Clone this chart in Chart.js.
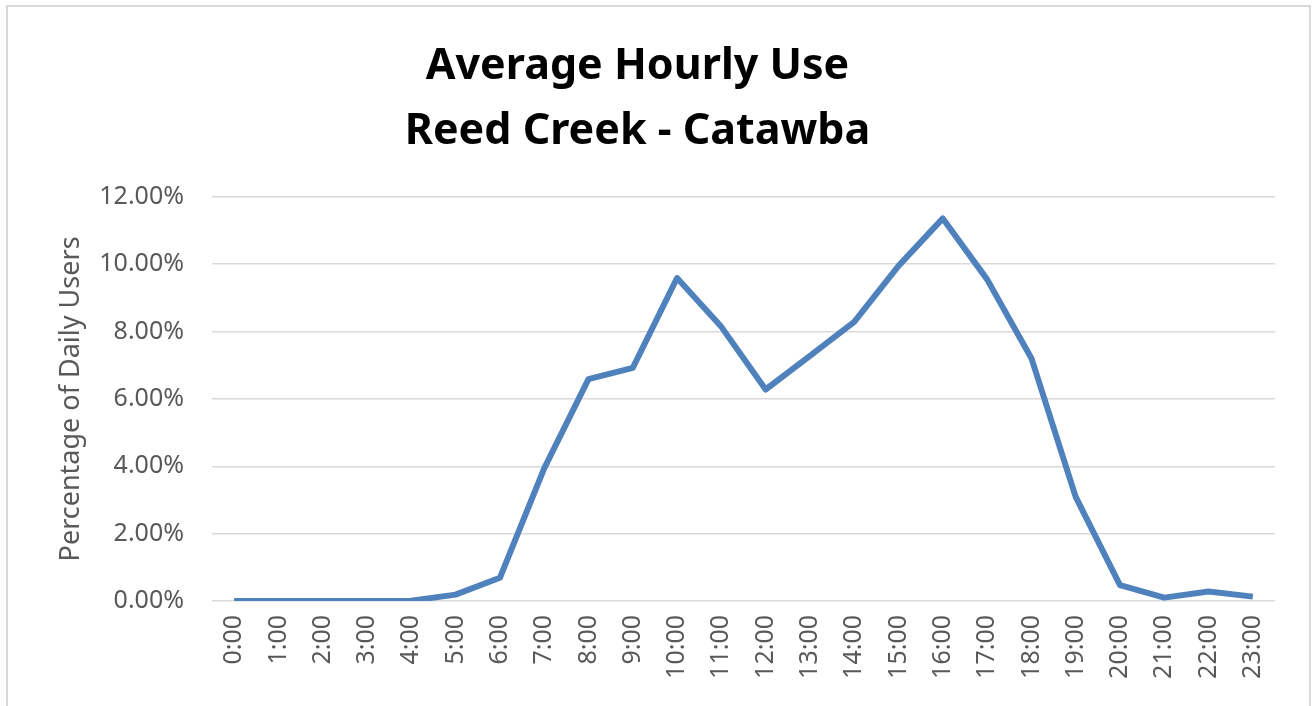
<!DOCTYPE html>
<html>
<head>
<meta charset="utf-8">
<script src="https://cdn.jsdelivr.net/npm/chart.js@4.4.0/dist/chart.umd.min.js"></script>
<style>
  html, body { margin: 0; padding: 0; background: #fff; overflow: hidden; }
  #frame {
    position: absolute; left: 6px; top: 5px; width: 1305px; height: 720px;
    border: 2px solid #d9d9d9; box-sizing: border-box;
  }
  #wrap { position: absolute; left: 0; top: 0; width: 1312px; height: 706px; }
</style>
</head>
<body>
<div id="frame"></div>
<div id="wrap"><canvas id="chart" width="1312" height="706"></canvas></div>
<script>
// Hourly share of daily users (percent)
const hours = ['0:00', '1:00', '2:00', '3:00', '4:00', '5:00', '6:00', '7:00', '8:00', '9:00', '10:00', '11:00',
  '12:00', '13:00', '14:00', '15:00', '16:00', '17:00', '18:00', '19:00', '20:00', '21:00', '22:00', '23:00'];
const usage = [0, 0, 0, 0, 0.01, 0.19, 0.69, 3.94, 6.59, 6.92, 9.59, 8.14,
  6.28, 7.28, 8.29, 9.95, 11.36, 9.55, 7.21, 3.09, 0.47, 0.1, 0.28, 0.13];
const yTicks = [0, 2, 4, 6, 8, 10, 12];

const ctx = document.getElementById('chart');

new Chart(ctx, {
  type: 'line',
  data: {
    labels: hours,
    datasets: [{
      label: 'Average Hourly Use',
      data: usage,
      borderColor: '#4f81bd',
      borderWidth: 6,
      borderJoinStyle: 'round',
      borderCapStyle: 'butt',
      pointRadius: 0,
      tension: 0,
      fill: false
    }]
  },
  options: {
    responsive: false,
    animation: false,
    layout: { padding: { left: 0, right: 37, top: 0, bottom: 0 } },
    plugins: {
      legend: { display: false },
      tooltip: { enabled: false },
      title: {
        display: true,
        text: ['Average Hourly Use', 'Reed Creek - Catawba'],
        color: '#000',
        font: { family: 'Noto Sans', size: 43, weight: 'bold', lineHeight: 1.51 },
        padding: { top: 34, bottom: 33 }
      }
    },
    scales: {
      x: {
        offset: true,
        grid: { display: false, drawTicks: false },
        border: { display: false },
        ticks: {
          color: '#595959',
          font: { family: 'Noto Sans', size: 25 },
          minRotation: 90,
          maxRotation: 90,
          autoSkip: false,
          padding: 14
        },
        afterFit: function(scale) { scale.height = 105; }
      },
      y: {
        min: 0,
        max: 12,
        afterBuildTicks: function(scale) {
          scale.ticks = yTicks.map(v => ({ value: v }));
        },
        grid: { color: '#d9d9d9', lineWidth: 1.5, drawTicks: false },
        border: { display: false },
        ticks: {
          color: '#595959',
          font: { family: 'Noto Sans', size: 25 },
          padding: 28,
          callback: function(value) { return value.toFixed(2) + '%'; }
        },
        title: {
          display: true,
          text: 'Percentage of Daily Users',
          color: '#595959',
          font: { family: 'Noto Sans', size: 27 },
          padding: { top: 55, bottom: 0 }
        },
        afterFit: function(scale) { scale.width = 212; }
      }
    }
  }
});
</script>
</body>
</html>
